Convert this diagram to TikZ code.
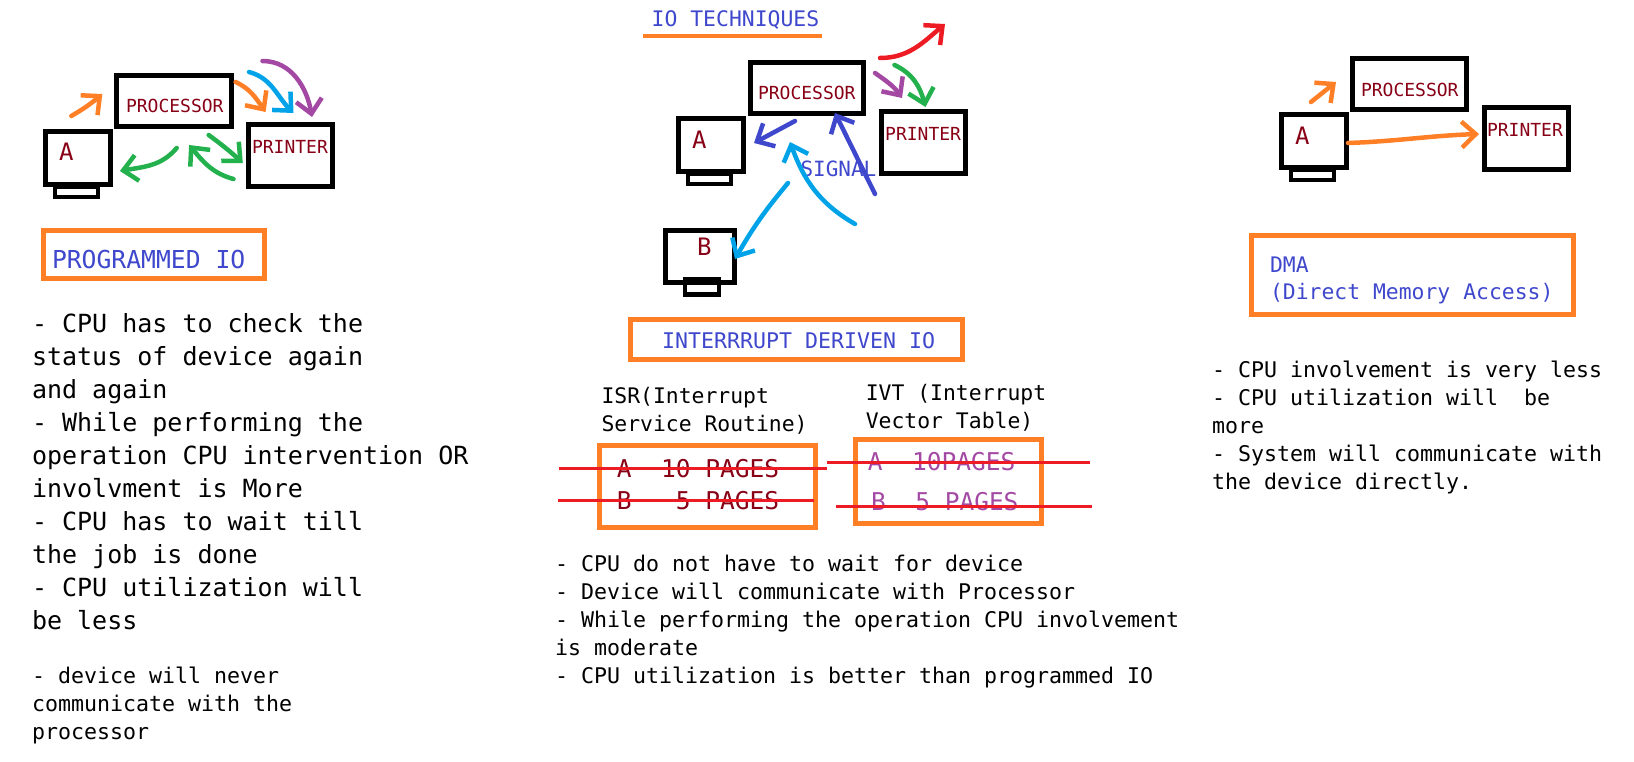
\documentclass[tikz,border=0pt]{standalone}
\usepackage{fontspec}
\setmainfont{DejaVu Sans Mono}
\usetikzlibrary{arrows.meta}
\definecolor{inkred}{HTML}{880015}
\definecolor{inkblue}{HTML}{3F48CC}
\definecolor{inkorange}{HTML}{FF7F27}
\definecolor{inkgreen}{HTML}{22B14C}
\definecolor{inkpurple}{HTML}{A349A4}
\definecolor{inkcyan}{HTML}{00A2E8}
\definecolor{inkstrike}{HTML}{ED1C24}
\newcommand{\fsize}[2]{\fontsize{#1}{#2}\selectfont}
\tikzset{
    every node/.style = {
        inner sep = 0pt,
        outer sep = 0pt
    },
    box/.style = {
        draw,
        line width = 5pt,
        minimum height = 51pt,
        minimum width = 115pt
    },
    screen/.style = {
        box,
        minimum height = 53pt,
        minimum width = 65pt
    },
    printerbox/.style = {
        box,
        minimum height = 62pt,
        minimum width = 84pt
    },
    stand/.style = {
        draw,
        line width = 4pt,
        minimum height = 10pt,
        minimum width = 43pt
    },
    frame/.style = {
        draw = inkorange,
        line width = 5pt
    },
    devname/.style = {
        anchor = base west,
        text = inkred,
        font = \fsize{18}{22}
    },
    devletter/.style = {
        anchor = base west,
        text = inkred,
        font = \fsize{24}{28}
    },
    title/.style = {
        anchor = base west,
        text = inkblue,
        font = \fsize{21.6}{27}
    },
    note/.style = {
        anchor = north west,
        align = left,
        font = \fsize{21.6}{28}
    },
    pages/.style = {
        anchor = base west,
        font = \fsize{24.5}{30}
    },
    trace/.style = {
        ->,
        > = {Straight Barb[length=14pt,width=26pt]},
        line width = 4.5pt,
        line cap = round,
        line join = round
    },
    strike/.style = {
        draw = inkstrike,
        line width = 3pt
    }
}
\begin{document}
\begin{tikzpicture}[x=1pt,y=-1pt]
    \useasboundingbox (0,0) rectangle (1634,762);
    % programmed io
    \node (procL) at (173.6,101) [box]{};
    \node (standL) at (76.5,192) [stand]{};
    \node (aL) at (78,158) [screen]{};
    \node (printL) at (290.4,155.5) [printerbox]{};
    \node (procTextL) at (126,113) [devname]{PROCESSOR};
    \node (printTextL) at (252,154) [devname]{PRINTER};
    \node (aTextL) at (59,161) [devletter]{A};
    \node (frameL) at (153.5,254.5) [frame,minimum width=221pt,minimum height=48pt]{};
    \node (titleL) at (52,269) [title,font=\fsize{24.7}{30}]{PROGRAMMED IO};
    \node (noteL) at (32,314) [note,font=\fsize{25}{33}]{- CPU has to check the\\status of device again\\and again\\- While performing the\\operation CPU intervention OR\\involvment is More\\- CPU has to wait till\\the job is done\\- CPU utilization will\\be less};
    \node (noteLb) at (32,666.5) [note,font=\fsize{21.6}{28}]{- device will never\\communicate with the\\processor};
    \coordinate (l1a) at (71.3,116); \coordinate (l1b) at (102.3,94);
    \coordinate (l2a) at (235.6,82); \coordinate (l2b) at (265.6,112);
    \coordinate (l3a) at (249,72); \coordinate (l3b) at (293.5,113);
    \coordinate (l4a) at (262.5,61); \coordinate (l4b) at (312,117);
    \coordinate (l5a) at (176.7,148); \coordinate (l5b) at (119.9,171);
    \coordinate (l6a) at (233.5,179); \coordinate (l6b) at (189.1,145);
    \coordinate (l7a) at (208.7,135); \coordinate (l7b) at (242.8,163);
    \draw[trace,inkorange,bend right=5] (l1a) to (l1b);
    \draw[trace,inkorange,out=-25,in=125] (l2a) to (l2b);
    \draw[trace,inkcyan,out=-15,in=135] (l3a) to (l3b);
    \draw[trace,inkpurple,out=0,in=100] (l4a) to (l4b);
    \draw[trace,inkgreen,out=-130,in=10] (l5a) to (l5b);
    \draw[trace,inkgreen,out=165,in=-50] (l6a) to (l6b);
    \draw[trace,inkgreen,bend left=3] (l7a) to (l7b);
    % interrupt driven io
    \node (ioTitle) at (651.7,27) [title,font=\fsize{21.4}{28}]{IO TECHNIQUES};
    \coordinate (ulA) at (643.4,36); \coordinate (ulB) at (822.2,36);
    \draw[inkorange,line width=4pt] (ulA) -- (ulB);
    \node (procM) at (806.7,88) [box,minimum width=113pt]{};
    \node (standM) at (709.5,179) [stand]{};
    \node (aM) at (711,145) [screen]{};
    \node (printM) at (923.4,142.5) [printerbox]{};
    \node (standB) at (701.8,287) [stand,line width=4.5pt,minimum width=34pt,minimum height=15.5pt]{};
    \node (bM) at (700.2,256.5) [screen,minimum width=69pt,minimum height=52pt]{};
    \node (procTextM) at (758,100) [devname]{PROCESSOR};
    \node (printTextM) at (885.2,141) [devname]{PRINTER};
    \node (aTextM) at (692,149) [devletter]{A};
    \node (bTextM) at (697,256) [devletter]{B};
    \node (signal) at (800.5,177) [title,font=\fsize{21}{26}]{SIGNAL};
    \node (frameM) at (796.3,339.5) [frame,minimum width=332pt,minimum height=40pt]{};
    \node (titleM) at (662,348) [title]{INTERRRUPT DERIVEN IO};
    \node (isrName) at (601.5,387) [note,font=\fsize{21.4}{28}]{ISR(Interrupt\\Service Routine)};
    \node (ivtName) at (865.8,384) [note,font=\fsize{21.4}{28}]{IVT (Interrupt\\Vector Table)};
    \node (isrBox) at (707.5,486.5) [frame,minimum width=216pt,minimum height=82pt]{};
    \node (ivtBox) at (948,481.5) [frame,minimum width=186pt,minimum height=84pt]{};
    \node (isrA) at (616.8,477) [pages,text=inkred]{A\ \ 10 PAGES};
    \node (isrB) at (616.8,509) [pages,text=inkred]{B\ \ \ 5 PAGES};
    \node (ivtA) at (867.9,470) [pages,text=inkpurple]{A\ \ 10PAGES};
    \node (ivtB) at (871,510) [pages,text=inkpurple]{B\ \ 5 PAGES};
    \coordinate (s1a) at (558.6,468); \coordinate (s1b) at (827,468);
    \coordinate (s2a) at (558,500); \coordinate (s2b) at (814,500);
    \coordinate (s3a) at (827,462); \coordinate (s3b) at (1090,462);
    \coordinate (s4a) at (836.4,506); \coordinate (s4b) at (1092,506);
    \draw[strike] (s1a) -- (s1b);
    \draw[strike] (s2a) -- (s2b);
    \draw[strike] (s3a) -- (s3b);
    \draw[strike] (s4a) -- (s4b);
    \node (noteM) at (555,555) [note]{- CPU do not have to wait for device\\- Device will communicate with Processor\\- While performing the operation CPU involvement\\is moderate\\- CPU utilization is better than programmed IO};
    \coordinate (m1a) at (880,58); \coordinate (m1b) at (945,24);
    \coordinate (m2a) at (875,73); \coordinate (m2b) at (902,98);
    \coordinate (m3a) at (894.5,65); \coordinate (m3b) at (925.5,107);
    \coordinate (m4a) at (795,121); \coordinate (m4b) at (754,143);
    \coordinate (m5a) at (875,194); \coordinate (m5b) at (835,113);
    \coordinate (m6a) at (855,224); \coordinate (m6b) at (790,142);
    \coordinate (m7a) at (788,183); \coordinate (m7b) at (735,259);
    \draw[trace,inkstrike,out=0,in=-140] (m1a) to (m1b);
    \draw[trace,inkpurple,out=-35,in=125] (m2a) to (m2b);
    \draw[trace,inkgreen,out=-25,in=105] (m3a) to (m3b);
    \draw[trace,inkblue] (m4a) to (m4b);
    \draw[trace,inkblue] (m5a) to (m5b);
    \draw[trace,inkcyan,out=150,in=-70] (m6a) to (m6b);
    \draw[trace,inkcyan,bend right=5] (m7a) to (m7b);
    % dma
    \node (procR) at (1409.5,84) [box,minimum width=114pt]{};
    \node (standR) at (1312.5,175) [stand]{};
    \node (aR) at (1314,141) [screen]{};
    \node (printR) at (1526.5,138.5) [printerbox]{};
    \node (procTextR) at (1361,97) [devname]{PROCESSOR};
    \node (printTextR) at (1487,137) [devname]{PRINTER};
    \node (aTextR) at (1295,145) [devletter]{A};
    \node (frameR) at (1412.5,275) [frame,minimum width=322pt,minimum height=79pt]{};
    \node (titleR) at (1270,257) [note,text=inkblue,font=\fsize{21.4}{27}]{DMA\\(Direct Memory Access)};
    \node (noteR) at (1212,361) [note]{- CPU involvement is very less\\- CPU utilization will\ \ be\\more\\- System will communicate with\\the device directly.};
    \coordinate (r1a) at (1311,102); \coordinate (r1b) at (1336,82);
    \coordinate (r2a) at (1348,143); \coordinate (r2b) at (1479,134);
    \draw[trace,inkorange] (r1a) to (r1b);
    \draw[trace,inkorange,out=2,in=182] (r2a) to (r2b);
\end{tikzpicture}
\end{document}
